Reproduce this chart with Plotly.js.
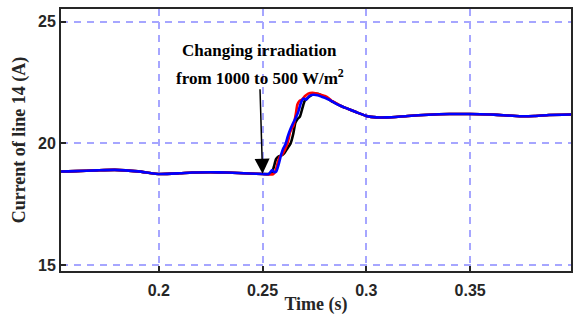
<!DOCTYPE html>
<html>
<head>
<meta charset="utf-8">
<script src="https://cdn.plot.ly/plotly-3.0.1.min.js"></script>
<style>html,body{margin:0;padding:0;background:#fff;}#chart{width:573px;height:315px;}</style>
</head>
<body>
<div id="chart"></div>
<script>
// Shared steady-state portions
const preT = [0.15, 0.1524, 0.16, 0.17, 0.1788, 0.19, 0.2005, 0.21, 0.216, 0.225, 0.2327, 0.2438, 0.25];
const preV = [18.84, 18.84, 18.86, 18.89, 18.91, 18.85, 18.74, 18.77, 18.80, 18.81, 18.80, 18.76, 18.74];
const postT = [0.2875, 0.29, 0.295, 0.3, 0.305, 0.31, 0.32, 0.33, 0.34, 0.35, 0.36, 0.366, 0.374, 0.381, 0.388, 0.4];
const postV = [21.55, 21.46, 21.29, 21.13, 21.07, 21.07, 21.13, 21.18, 21.21, 21.21, 21.19, 21.16, 21.12, 21.13, 21.17, 21.19];

// Transients (black, red, blue)
const blackT = [0.2530, 0.2545, 0.2555, 0.2565, 0.2575, 0.2590, 0.2605, 0.2620, 0.2635, 0.2648, 0.2658, 0.2668, 0.2680, 0.2692, 0.2703, 0.2715, 0.2730, 0.2750, 0.2770, 0.2790, 0.2810, 0.2830, 0.2850];
const blackV = [18.74, 18.80, 19.05, 19.35, 19.45, 19.50, 19.60, 19.80, 20.00, 20.40, 20.85, 21.00, 21.10, 21.45, 21.75, 21.85, 21.95, 22.05, 22.03, 21.95, 21.88, 21.75, 21.66];
const redT = [0.2535, 0.2550, 0.2562, 0.2573, 0.2583, 0.2595, 0.2608, 0.2622, 0.2632, 0.2640, 0.2650, 0.2660, 0.2668, 0.2678, 0.2690, 0.2705, 0.2720, 0.2740, 0.2760, 0.2780, 0.2800, 0.2820, 0.2835, 0.2850];
const redV = [18.72, 18.73, 18.85, 19.20, 19.45, 19.55, 19.75, 20.05, 20.45, 20.60, 20.75, 21.20, 21.60, 21.75, 21.80, 21.95, 22.05, 22.08, 22.05, 22.00, 21.95, 21.85, 21.74, 21.68];
const blueT = [0.2530, 0.2538, 0.2546, 0.2556, 0.2566, 0.2578, 0.2590, 0.2600, 0.2610, 0.2622, 0.2635, 0.2648, 0.2660, 0.2672, 0.2686, 0.2698, 0.2710, 0.2725, 0.2745, 0.2765, 0.2785, 0.2805, 0.2825, 0.2845];
const blueV = [18.74, 18.82, 18.90, 18.82, 18.84, 19.15, 19.55, 19.80, 19.95, 20.30, 20.60, 20.85, 21.05, 21.30, 21.70, 21.85, 21.80, 21.95, 22.00, 21.98, 21.92, 21.86, 21.78, 21.68];

const xTicks = [0.2, 0.25, 0.3, 0.35];
const xTickText = ['0.2', '0.25', '0.3', '0.35'];
const yTicks = [15, 20, 25];
const yTickText = ['15', '20', '25'];

function series(t, v, color) {
  return {
    x: preT.concat(t, postT), y: preV.concat(v, postV),
    type: 'scatter', mode: 'lines',
    line: {color: color, width: 2.6, shape: 'spline', smoothing: 0.5},
    showlegend: false, hoverinfo: 'skip'
  };
}

const data = [
  series(blackT, blackV, '#000000'),
  series(redT, redV, '#ff0000'),
  series(blueT, blueV, '#0000ff')
];

const tickFont = {family: 'Liberation Sans, Arial, sans-serif', size: 16, color: '#262626', weight: 'bold'};
const titleFont = {family: 'Liberation Serif, Times New Roman, serif', size: 18, color: '#262626', weight: 'bold'};
const noteFont = {family: 'Liberation Serif, Times New Roman, serif', size: 17, color: '#000000', weight: 'bold'};

const layout = {
  width: 573, height: 315,
  margin: {l: 61, r: 2, t: 9, b: 44},
  paper_bgcolor: '#ffffff', plot_bgcolor: '#ffffff',
  xaxis: {
    range: [0.1529, 0.3986], tickvals: xTicks, ticktext: xTickText,
    ticks: 'inside', ticklen: 5, tickwidth: 2, tickcolor: '#262626',
    showline: true, linecolor: '#262626', linewidth: 2, mirror: true,
    showgrid: true, gridcolor: '#a6a6ff', gridwidth: 2, griddash: '7px,6px',
    zeroline: false, tickfont: tickFont, ticklabelstandoff: 4,
    title: {text: 'Time (s)', font: titleFont, standoff: 2}
  },
  yaxis: {
    range: [14.75, 25.53], tickvals: yTicks, ticktext: yTickText,
    ticks: 'inside', ticklen: 5, tickwidth: 2, tickcolor: '#262626',
    showline: true, linecolor: '#262626', linewidth: 2, mirror: true,
    showgrid: true, gridcolor: '#a6a6ff', gridwidth: 2, griddash: '7px,6px',
    zeroline: false, tickfont: tickFont,
    title: {text: 'Current of line 14 (A)', font: titleFont, standoff: 8}
  },
  annotations: [
    {
      x: 0.2486, y: 23.81, xref: 'x', yref: 'y', showarrow: false,
      text: 'Changing irradiation', font: noteFont
    },
    {
      x: 0.25, y: 18.75, xref: 'x', yref: 'y',
      ax: 0.2486, ay: 22.74, axref: 'x', ayref: 'y',
      showarrow: true, arrowhead: 2, arrowsize: 2, arrowwidth: 1.5, arrowcolor: '#000000',
      text: 'from 1000 to 500 W/m<sup>2</sup>', font: noteFont
    }
  ]
};

Plotly.newPlot('chart', data, layout, {displayModeBar: false, staticPlot: true});
</script>
</body>
</html>
